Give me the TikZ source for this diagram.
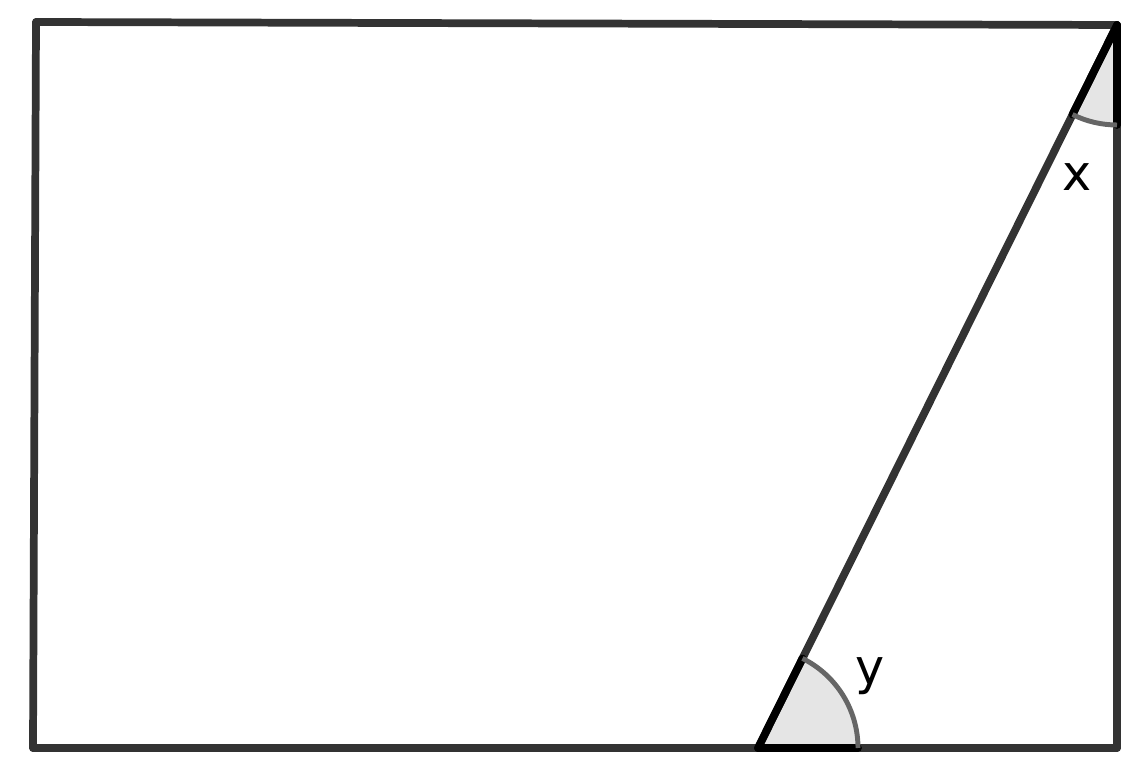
\documentclass[tikz,border=0pt]{standalone}
\usepackage{fontspec}
\setmainfont{DejaVu Sans}
\usetikzlibrary{positioning}

\tikzset{
  side/.style={line width=4.4pt, draw=black!80, line cap=round},
  sector/.style={fill=black!10},
  arcline/.style={line width=2.8pt, draw=black!60},
  edgeline/.style={line width=4.4pt, draw=black, line cap=round},
  anglelabel/.style={font=\fontsize{28}{32}\selectfont, inner sep=0pt}
}

\begin{document}
\begin{tikzpicture}
    \useasboundingbox (0,0) rectangle (22.88,15.5);
    % corners
    \coordinate (A) at (0.72,15.06);
    \coordinate (B) at (22.34,15.0);
    \coordinate (C) at (22.34,0.54);
    \coordinate (D) at (15.16,0.54);
    \coordinate (E) at (0.66,0.54);
    % angle sectors
    \fill[sector] (B) -- ++(243.6:2) arc[start angle=243.6, end angle=270, radius=2] -- cycle;
    \fill[sector] (D) -- ++(0:2) arc[start angle=0, end angle=63.6, radius=2] -- cycle;
    % sides
    \draw[side] (A) -- (B);
    \draw[side] (B) -- (C);
    \draw[side] (C) -- (E);
    \draw[side] (E) -- (A);
    \draw[side] (B) -- (D);
    % sector edges
    \draw[edgeline] (B) -- ++(243.6:2);
    \draw[edgeline] (B) -- ++(270:2);
    \draw[edgeline] (D) -- ++(0:2);
    \draw[edgeline] (D) -- ++(63.6:2);
    \draw[arcline] (B) ++(243.6:2) arc[start angle=243.6, end angle=270, radius=2];
    \draw[arcline] (D) ++(0:2) arc[start angle=0, end angle=63.6, radius=2];
    % labels
    \node[anglelabel] (x) at (21.54,11.96) {x};
    \node[anglelabel] (y) at (17.4,1.98) {y};
\end{tikzpicture}
\end{document}
